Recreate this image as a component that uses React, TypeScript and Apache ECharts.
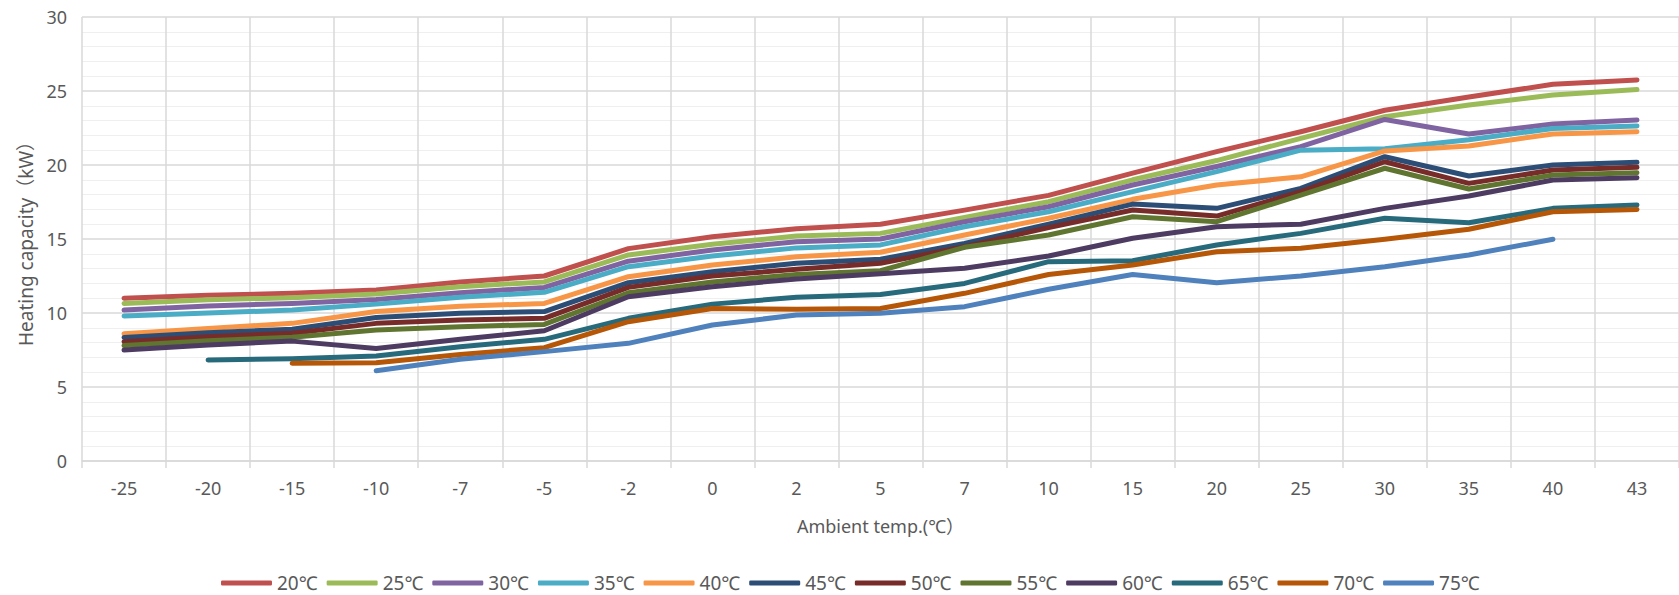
import React, { useEffect, useRef } from "react";
import * as echarts from "echarts";

const categories = ["-25", "-20", "-15", "-10", "-7", "-5", "-2", "0", "2", "5", "7", "10", "15", "20", "25", "30", "35", "40", "43"];

const seriesNames = ["20℃", "25℃", "30℃", "35℃", "40℃", "45℃", "50℃", "55℃", "60℃", "65℃", "70℃", "75℃"];
const seriesColors = ["#C0504D", "#9BBB59", "#8064A2", "#4BACC6", "#F79646", "#2C4D75", "#772C2A", "#5F7530", "#4D3B62", "#276A7C", "#B65708", "#4F81BD"];

const t20 = [11.0, 11.2, 11.33, 11.55, 12.1, 12.5, 14.35, 15.15, 15.7, 16.0, 16.95, 17.95, 19.45, 20.9, 22.25, 23.7, 24.6, 25.45, 25.75];
const t25 = [10.65, 10.9, 11.03, 11.28, 11.78, 12.1, 13.92, 14.64, 15.2, 15.38, 16.46, 17.52, 19.0, 20.3, 21.8, 23.26, 24.05, 24.73, 25.1];
const t30 = [10.2, 10.47, 10.65, 10.92, 11.37, 11.73, 13.5, 14.26, 14.82, 15.0, 16.17, 17.18, 18.65, 19.9, 21.24, 23.08, 22.1, 22.77, 23.04];
const t35 = [9.8, 10.0, 10.2, 10.6, 11.06, 11.4, 13.13, 13.85, 14.4, 14.6, 15.83, 16.84, 18.2, 19.55, 21.0, 21.1, 21.7, 22.47, 22.64];
const t40 = [8.6, 8.96, 9.3, 10.1, 10.45, 10.65, 12.45, 13.24, 13.8, 14.1, 15.27, 16.4, 17.68, 18.65, 19.2, 20.95, 21.28, 22.1, 22.25];
const t45 = [8.35, 8.67, 8.9, 9.7, 9.98, 10.1, 12.05, 12.79, 13.36, 13.63, 14.7, 16.0, 17.36, 17.07, 18.42, 20.56, 19.26, 20.0, 20.18];
const t50 = [8.06, 8.4, 8.63, 9.3, 9.53, 9.64, 11.73, 12.5, 12.95, 13.36, 14.48, 15.77, 16.96, 16.55, 18.2, 20.22, 18.76, 19.66, 19.84];
const t55 = [7.8, 8.13, 8.36, 8.85, 9.07, 9.23, 11.37, 12.1, 12.6, 12.86, 14.44, 15.27, 16.5, 16.17, 17.97, 19.78, 18.38, 19.32, 19.48];
const t60 = [7.5, 7.84, 8.1, 7.6, 8.22, 8.8, 11.1, 11.78, 12.3, 12.65, 13.02, 13.85, 15.05, 15.83, 16.0, 17.07, 17.9, 18.99, 19.14];
const t65 = [null, 6.82, 6.91, 7.1, 7.72, 8.22, 9.64, 10.6, 11.06, 11.25, 12.0, 13.47, 13.53, 14.6, 15.38, 16.4, 16.1, 17.07, 17.3];
const t70 = [null, null, 6.6, 6.64, 7.2, 7.66, 9.41, 10.3, 10.25, 10.3, 11.33, 12.6, 13.24, 14.14, 14.37, 14.98, 15.66, 16.84, 17.0];
const t75 = [null, null, null, 6.1, 6.87, 7.39, 7.95, 9.19, 9.86, 9.98, 10.43, 11.6, 12.6, 12.05, 12.5, 13.13, 13.92, 14.98, null];

const allData = [t20, t25, t30, t35, t40, t45, t50, t55, t60, t65, t70, t75];

const yTicks = { min: 0, max: 30, interval: 5 };

const FONT = '"Noto Sans", "Noto Sans CJK SC", sans-serif';
const TEXT_COLOR = "#595959";

export default function App() {
  const ref = useRef<HTMLDivElement>(null);

  useEffect(() => {
    if (!ref.current) return;
    const chart = echarts.init(ref.current, null, { renderer: "svg" });
    chart.setOption({
      animation: false,
      backgroundColor: "#ffffff",
      textStyle: { fontFamily: FONT },
      grid: { left: 82, top: 17, width: 1612, bottom: 134, containLabel: false },
      legend: {
        data: seriesNames,
        left: 221,
        top: 573,
        padding: 0,
        icon: "roundRect",
        itemWidth: 51,
        itemHeight: 5,
        itemGap: 9,
        textStyle: { fontFamily: FONT, fontSize: 19, lineHeight: 20, color: TEXT_COLOR },
      },
      xAxis: {
        type: "category",
        data: categories,
        boundaryGap: true,
        name: "Ambient temp.(℃）",
        nameLocation: "middle",
        nameGap: 56,
        nameTextStyle: { fontFamily: FONT, fontSize: 18, color: TEXT_COLOR },
        axisLine: { show: true, lineStyle: { color: "#d9d9d9", width: 1.5 } },
        axisTick: { show: true, length: 7, interval: 0, lineStyle: { color: "#d9d9d9", width: 1.5 } },
        axisLabel: { interval: 0, margin: 18, fontFamily: FONT, fontSize: 18, color: TEXT_COLOR },
        splitLine: { show: true, interval: 0, lineStyle: { color: "#d9d9d9", width: 1.5 } },
      },
      yAxis: {
        type: "value",
        min: yTicks.min,
        max: yTicks.max,
        interval: yTicks.interval,
        name: "Heating capacity（kW）",
        nameLocation: "middle",
        nameGap: 47,
        nameTextStyle: { fontFamily: FONT, fontSize: 19, color: TEXT_COLOR },
        axisLine: { show: false },
        axisTick: { show: false },
        axisLabel: { margin: 15, fontFamily: FONT, fontSize: 18, color: TEXT_COLOR },
        splitLine: { show: true, lineStyle: { color: "#d9d9d9", width: 1.5 } },
        minorTick: { show: false, splitNumber: 5 },
        minorSplitLine: { show: true, lineStyle: { color: "#efefef", width: 1.2 } },
      },
      series: seriesNames.map((name, i) => ({
        name,
        type: "line",
        data: allData[i],
        symbol: "none",
        smooth: false,
        connectNulls: false,
        color: seriesColors[i],
        lineStyle: { width: 5, color: seriesColors[i], cap: "round", join: "round" },
        itemStyle: { color: seriesColors[i] },
        emphasis: { disabled: true },
      })),
    });
    return () => chart.dispose();
  }, []);

  return (
    <div
      ref={ref}
      style={{ position: "absolute", left: 0, top: 0, width: 1679, height: 595, overflow: "hidden" }}
    />
  );
}
